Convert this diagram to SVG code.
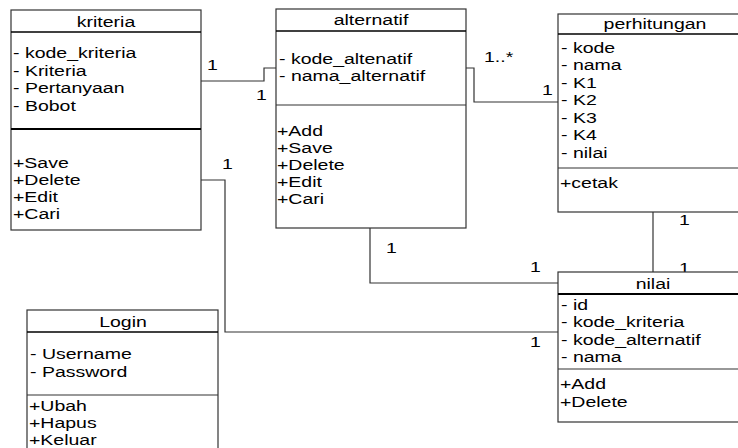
<svg xmlns="http://www.w3.org/2000/svg" width="738" height="448" viewBox="0 0 738 448">
<style>
text{font-family:"Liberation Sans",Arial,sans-serif;font-size:15px;fill:#000}
.t{text-anchor:middle}
.box{fill:#fff;stroke:#333;stroke-width:1.2}
.hl{stroke:#000;stroke-width:1.6}
.dv{stroke:#000;stroke-width:2}
.dl{stroke:#333;stroke-width:1.2}
.c{fill:none;stroke:#333;stroke-width:1.2}
</style>
<rect width="738" height="448" fill="#fff"/>
<g id="connectors">
<polyline class="c" points="201,81 264,81 264,68 276,68"/>
<polyline class="c" points="466,68 474,68 474,102 558,102"/>
<polyline class="c" points="201,180 225,180 225,332 558,332"/>
<polyline class="c" points="370,228 370,283 558,283"/>
<polyline class="c" points="653,212 653,272"/>
<text transform="translate(207 70) scale(1.3 1)">1</text>
<text transform="translate(256 100) scale(1.3 1)">1</text>
<text transform="translate(484 62) scale(1.3 1)">1..*</text>
<text transform="translate(542 95) scale(1.3 1)">1</text>
<text transform="translate(222 169) scale(1.3 1)">1</text>
<text transform="translate(386 253) scale(1.3 1)">1</text>
<text transform="translate(530 272) scale(1.3 1)">1</text>
<text transform="translate(679 225) scale(1.3 1)">1</text>
<text transform="translate(679 273) scale(1.3 1)">1</text>
<text transform="translate(530 347) scale(1.3 1)">1</text>
</g>
<g id="kriteria">
<rect class="box" x="11" y="10" width="190" height="220"/>
<line class="hl" x1="11" y1="32" x2="201" y2="32"/>
<line class="dv" x1="11" y1="129" x2="201" y2="129"/>
<text class="t" transform="translate(106 27) scale(1.3 1)">kriteria</text>
<text transform="translate(13 58) scale(1.3 1)">- kode_kriteria</text>
<text transform="translate(13 76) scale(1.3 1)">- Kriteria</text>
<text transform="translate(13 93) scale(1.3 1)">- Pertanyaan</text>
<text transform="translate(13 111) scale(1.3 1)">- Bobot</text>
<text transform="translate(13 168) scale(1.3 1)">+Save</text>
<text transform="translate(13 185) scale(1.3 1)">+Delete</text>
<text transform="translate(13 202) scale(1.3 1)">+Edit</text>
<text transform="translate(13 219) scale(1.3 1)">+Cari</text>
</g>
<g id="alternatif">
<rect class="box" x="276" y="9" width="190" height="219"/>
<line class="hl" x1="276" y1="31" x2="466" y2="31"/>
<line class="dl" x1="276" y1="105" x2="466" y2="105"/>
<text class="t" transform="translate(371 25) scale(1.3 1)">alternatif</text>
<text transform="translate(279 64) scale(1.3 1)">- kode_altenatif</text>
<text transform="translate(279 81) scale(1.3 1)">- nama_alternatif</text>
<text transform="translate(277 136) scale(1.3 1)">+Add</text>
<text transform="translate(277 153) scale(1.3 1)">+Save</text>
<text transform="translate(277 170) scale(1.3 1)">+Delete</text>
<text transform="translate(277 187) scale(1.3 1)">+Edit</text>
<text transform="translate(277 204) scale(1.3 1)">+Cari</text>
</g>
<g id="perhitungan">
<rect class="box" x="558" y="14" width="200" height="198"/>
<line class="hl" x1="558" y1="34" x2="738" y2="34"/>
<line class="dl" x1="558" y1="168" x2="738" y2="168"/>
<text class="t" transform="translate(655 29) scale(1.3 1)">perhitungan</text>
<text transform="translate(561 53) scale(1.3 1)">- kode</text>
<text transform="translate(561 70) scale(1.3 1)">- nama</text>
<text transform="translate(561 88) scale(1.3 1)">- K1</text>
<text transform="translate(561 105) scale(1.3 1)">- K2</text>
<text transform="translate(561 123) scale(1.3 1)">- K3</text>
<text transform="translate(561 140) scale(1.3 1)">- K4</text>
<text transform="translate(561 158) scale(1.3 1)">- nilai</text>
<text transform="translate(560 188) scale(1.3 1)">+cetak</text>
</g>
<g id="nilai">
<rect class="box" x="558" y="272" width="200" height="150"/>
<line class="dv" x1="558" y1="294" x2="738" y2="294"/>
<line class="dl" x1="558" y1="369" x2="738" y2="369"/>
<text class="t" transform="translate(653 289) scale(1.3 1)">nilai</text>
<text transform="translate(561 310) scale(1.3 1)">- id</text>
<text transform="translate(561 327) scale(1.3 1)">- kode_kriteria</text>
<text transform="translate(561 345) scale(1.3 1)">- kode_alternatif</text>
<text transform="translate(561 362) scale(1.3 1)">- nama</text>
<text transform="translate(560 389) scale(1.3 1)">+Add</text>
<text transform="translate(560 407) scale(1.3 1)">+Delete</text>
</g>
<g id="login">
<rect class="box" x="27" y="310" width="191" height="150"/>
<line class="hl" x1="27" y1="332" x2="218" y2="332"/>
<line class="dl" x1="27" y1="395" x2="218" y2="395"/>
<text class="t" transform="translate(123 327) scale(1.3 1)">Login</text>
<text transform="translate(30 359) scale(1.3 1)">- Username</text>
<text transform="translate(30 377) scale(1.3 1)">- Password</text>
<text transform="translate(29 411) scale(1.3 1)">+Ubah</text>
<text transform="translate(29 428) scale(1.3 1)">+Hapus</text>
<text transform="translate(29 445) scale(1.3 1)">+Keluar</text>
</g>
</svg>
